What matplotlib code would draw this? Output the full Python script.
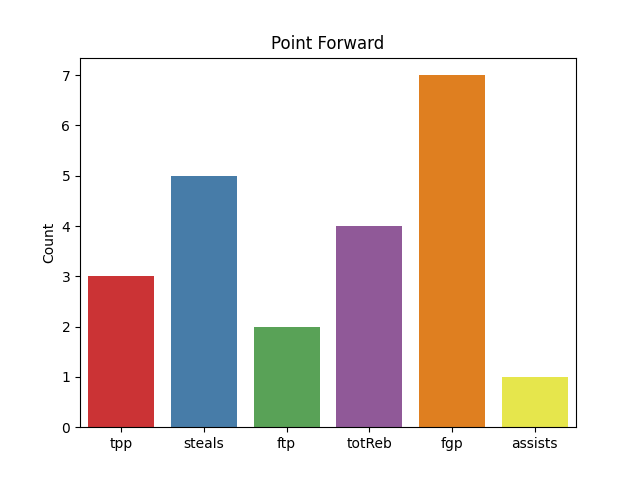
import matplotlib
matplotlib.use("Agg")
import matplotlib.pyplot as plt
import seaborn as sns

stats = ["tpp", "steals", "ftp", "totReb", "fgp", "assists"]
counts = [3, 5, 2, 4, 7, 1]

fig, ax = plt.subplots(figsize=(6.4, 4.8), dpi=100)
sns.barplot(x=stats, y=counts, hue=stats, palette="Set1", legend=False, ax=ax)
ax.set_title("Point Forward")
ax.set_ylabel("Count")
fig.savefig("out.png")
